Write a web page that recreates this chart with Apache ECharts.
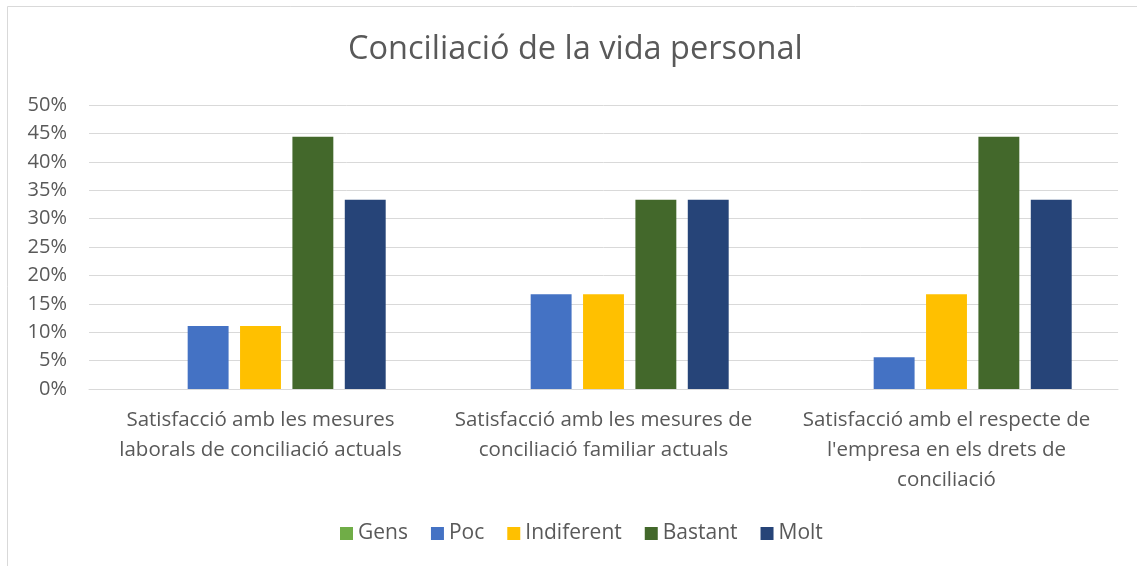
<!DOCTYPE html>
<html lang="ca">
<head>
    <meta charset="utf-8">
    <title>Conciliació de la vida personal</title>
    <script src="https://cdn.jsdelivr.net/npm/echarts@6/dist/echarts.min.js"></script>
    <style>
        html, body { margin: 0; padding: 0; background: #fff; }
        #chart { width: 1137px; height: 566px; }
    </style>
</head>
<body>
<div id="chart"></div>
<script type="text/javascript">
    // dades llegides del gràfic (percentatges)
    var categories = [
        'Satisfacció amb les mesures\nlaborals de conciliació actuals',
        'Satisfacció amb les mesures de\nconciliació familiar actuals',
        "Satisfacció amb el respecte de\nl'empresa en els drets de\nconciliació"
    ];
    var seriesNames = ['Gens', 'Poc', 'Indiferent', 'Bastant', 'Molt'];
    var gens = [0, 0, 0];
    var poc = [11.1, 16.7, 5.6];
    var indiferent = [11.1, 16.7, 16.7];
    var bastant = [44.4, 33.3, 44.4];
    var molt = [33.3, 33.3, 33.3];
    var yTicks = [0, 5, 10, 15, 20, 25, 30, 35, 40, 45, 50];

    var colors = ['#70ad47', '#4472c4', '#ffc000', '#43682b', '#264478'];
    var values = [gens, poc, indiferent, bastant, molt];
    var font = '"Open Sans", "Noto Sans", sans-serif';
    var grey = '#595959';

    var series = [];
    for (var i = 0; i < seriesNames.length; i++) {
        series.push({
            name: seriesNames[i],
            type: 'bar',
            data: values[i],
            barGap: '28%',
            barCategoryGap: '27%',
            itemStyle: { color: colors[i] }
        });
    }

    var chart = echarts.init(document.getElementById('chart'), null, { renderer: 'canvas' });
    chart.setOption({
        backgroundColor: '#fff',
        animation: false,
        color: colors,
        graphic: [{
            type: 'rect',
            shape: { x: 7.5, y: 6.5, width: 1200, height: 700 },
            style: { fill: 'none', stroke: '#d9d9d9', lineWidth: 1 },
            silent: true
        }],
        title: {
            text: 'Conciliació de la vida personal',
            left: 343,
            top: 28,
            textStyle: { fontFamily: font, fontSize: 32.5, fontWeight: 'normal', color: grey }
        },
        legend: {
            top: 518,
            left: 335,
            itemWidth: 13,
            itemHeight: 13,
            itemGap: 23,
            icon: 'rect',
            textStyle: { fontFamily: font, fontSize: 21, color: grey },
            data: seriesNames
        },
        grid: { left: 89, right: 19, top: 105, bottom: 177, containLabel: false },
        xAxis: {
            type: 'category',
            data: categories,
            axisLine: { show: true, lineStyle: { color: '#d9d9d9', width: 1 } },
            axisTick: { show: false },
            axisLabel: {
                interval: 0,
                margin: 16,
                fontFamily: font,
                fontSize: 20.5,
                lineHeight: 30,
                color: grey
            }
        },
        yAxis: {
            type: 'value',
            min: yTicks[0],
            max: yTicks[yTicks.length - 1],
            interval: 5,
            axisLine: { show: false },
            axisTick: { show: false },
            splitLine: { lineStyle: { color: '#d9d9d9', width: 1 } },
            axisLabel: {
                margin: 22,
                fontFamily: font,
                fontSize: 20,
                color: grey,
                formatter: function (v) { return v + '%'; }
            }
        },
        series: series
    });
</script>
</body>
</html>
